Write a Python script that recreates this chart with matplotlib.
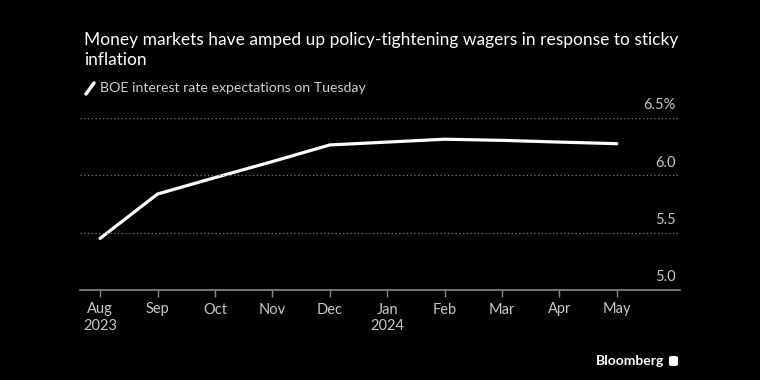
import matplotlib.pyplot as plt
import matplotlib.transforms as mtransforms
from matplotlib.patches import FancyBboxPatch

plt.rcParams['font.family'] = ['Lato', 'DejaVu Sans']

months = ['Aug\n2023', 'Sep', 'Oct', 'Nov', 'Dec', 'Jan\n2024', 'Feb', 'Mar', 'Apr', 'May']
rate = [5.45, 5.837, 5.98, 6.12, 6.265, 6.29, 6.315, 6.305, 6.29, 6.276]
yticks = [5.0, 5.5, 6.0, 6.5]
ylabels = ['5.0', '5.5', '6.0', '6.5%']

bg = '#000000'
fig = plt.figure(figsize=(7.6, 3.8), dpi=100, facecolor=bg)
ax = fig.add_axes([80 / 760, 1 - 290 / 380, 600 / 760, 172 / 380], facecolor=bg)

x = list(range(len(months)))
ax.plot(x, rate, color='white', linewidth=2.3, solid_capstyle='round', solid_joinstyle='round')

ax.set_xlim(-0.35, 10.1)
ax.set_ylim(5.0, 6.5)
ax.set_xticks(x)
ax.set_xticklabels(months, fontsize=10.5, linespacing=1.25)
ax.tick_params(axis='x', colors='#8a8a8a', length=5, width=1, pad=4, labelcolor='#c8c8c8')
ax.set_yticks([])

for v in yticks[1:]:
    ax.axhline(v, color='#777777', linewidth=0.9, linestyle=(0, (1, 2)))

trans = mtransforms.blended_transform_factory(ax.transAxes, ax.transData)
for v, lab in zip(yticks, ylabels):
    ax.text(0.993, v + 0.05, lab, transform=trans, ha='right', va='bottom',
            color='#c8c8c8', fontsize=10.5)

for s in ['top', 'right', 'left']:
    ax.spines[s].set_visible(False)
ax.spines['bottom'].set_color('#8a8a8a')
ax.spines['bottom'].set_linewidth(1.2)

fig.text(84 / 760, 1 - 50 / 380, 'Money markets have amped up policy-tightening wagers in response to sticky\ninflation',
         color='white', fontsize=12.5, ha='left', va='center', linespacing=1.3)
fig.text(100 / 760, 1 - 88 / 380, 'BOE interest rate expectations on Tuesday',
         color='#d0d0d0', fontsize=10.2, ha='left', va='center')
fig.add_artist(plt.Line2D([86 / 760, 94 / 760], [1 - 94 / 380, 1 - 83 / 380],
                          color='white', linewidth=2.5, solid_capstyle='round'))

fig.text(664 / 760, 1 - 361 / 380, 'Bloomberg', color='white', fontsize=10,
         fontweight='bold', ha='right', va='center')
fig.add_artist(FancyBboxPatch((669 / 760, 1 - 366 / 380), 9 / 760, 10 / 380,
                              boxstyle='round,pad=0,rounding_size=0.004',
                              facecolor='white', edgecolor='none'))

fig.savefig('out.png', dpi=100, facecolor=bg)
